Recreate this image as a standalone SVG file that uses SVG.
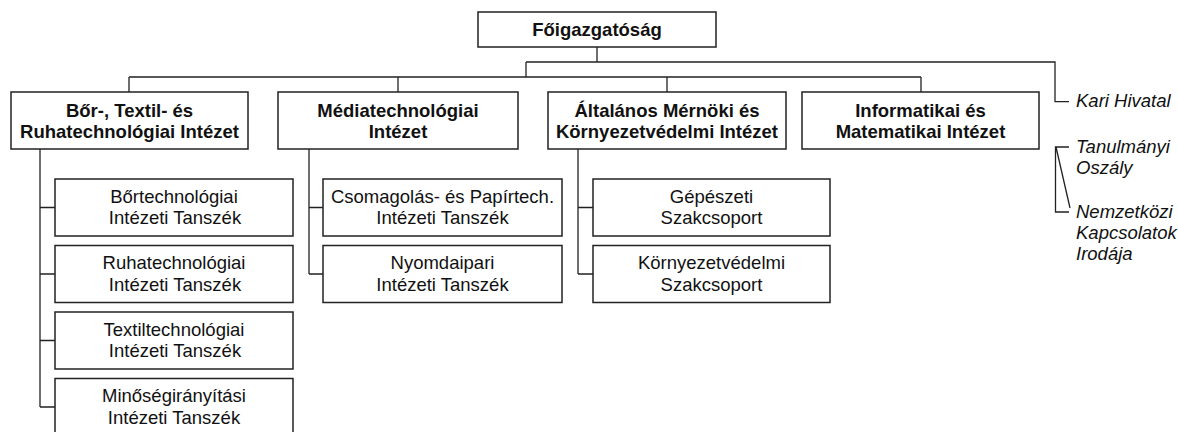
<svg xmlns="http://www.w3.org/2000/svg" width="1178" height="432" viewBox="0 0 1178 432">
<style>
.box{fill:#fff;stroke:#222;stroke-width:1.5}
.ln{fill:none;stroke:#222;stroke-width:1.3}
.b{font-family:"Liberation Sans",Arial,sans-serif;font-size:18.5px;font-weight:bold;fill:#111;text-anchor:middle}
.r{font-family:"Liberation Sans",Arial,sans-serif;font-size:18.5px;fill:#111;text-anchor:middle}
.i{font-family:"Liberation Sans",Arial,sans-serif;font-size:18.5px;font-style:italic;fill:#111}
</style>
<rect width="1178" height="432" fill="#fff"/>
<g id="connectors">
<path class="ln" d="M597,47 V62 M526,62 H1055 V101.7 H1069 M526,62 V77 M129,77 H921 M129,77 V92 M398,77 V92 M667,77 V92 M921,77 V92"/>
<path class="ln" d="M40,149 V407 M40,207.5 H55 M40,274 H55 M40,340.5 H55 M40,407 H55"/>
<path class="ln" d="M309,149 V274 M309,207.5 H323 M309,274 H323"/>
<path class="ln" d="M578,149 V274 M578,207.5 H593 M578,274 H593"/>
<path class="ln" d="M1069,147 H1055.5 V212 H1069 M1056,147 L1070,208"/>
</g>
<g id="foigazgatosag"><rect class="box" x="478" y="12" width="238" height="35"/><text class="b" x="597" y="36">Főigazgatóság</text></g>
<g id="bor"><rect class="box" x="11" y="92" width="237" height="57"/><text class="b" x="129.5" y="116.5">Bőr-, Textil- és</text><text class="b" x="129.5" y="137.7">Ruhatechnológiai Intézet</text></g>
<g id="media"><rect class="box" x="278" y="92" width="240" height="57"/><text class="b" x="398" y="116.5">Médiatechnológiai</text><text class="b" x="398" y="137.7">Intézet</text></g>
<g id="altalanos"><rect class="box" x="548" y="92" width="238" height="57"/><text class="b" x="667" y="116.5">Általános Mérnöki és</text><text class="b" x="667" y="137.7">Környezetvédelmi Intézet</text></g>
<g id="informatikai"><rect class="box" x="802" y="92" width="237" height="57"/><text class="b" x="920.5" y="116.5">Informatikai és</text><text class="b" x="920.5" y="137.7">Matematikai Intézet</text></g>
<g id="bortech"><rect class="box" x="55" y="179" width="238" height="57"/><text class="r" x="174" y="202.5">Bőrtechnológiai</text><text class="r" x="175" y="224">Intézeti Tanszék</text></g>
<g id="ruhatech"><rect class="box" x="55" y="245.5" width="238" height="57"/><text class="r" x="174" y="269">Ruhatechnológiai</text><text class="r" x="175" y="290.5">Intézeti Tanszék</text></g>
<g id="textiltech"><rect class="box" x="55" y="312" width="238" height="57"/><text class="r" x="174" y="335.5">Textiltechnológiai</text><text class="r" x="175" y="357">Intézeti Tanszék</text></g>
<g id="minoseg"><rect class="box" x="55" y="378.5" width="238" height="57"/><text class="r" x="174" y="402">Minőségirányítási</text><text class="r" x="174" y="423.5">Intézeti Tanszék</text></g>
<g id="csomagolas"><rect class="box" x="323" y="179" width="239" height="57"/><text class="r" x="442.5" y="202.5">Csomagolás- és Papírtech.</text><text class="r" x="442.5" y="224">Intézeti Tanszék</text></g>
<g id="nyomdaipari"><rect class="box" x="323" y="245.5" width="239" height="57"/><text class="r" x="442.5" y="269">Nyomdaipari</text><text class="r" x="442.5" y="290.5">Intézeti Tanszék</text></g>
<g id="gepeszeti"><rect class="box" x="593" y="179" width="237" height="57"/><text class="r" x="711.5" y="202.5">Gépészeti</text><text class="r" x="711.5" y="224">Szakcsoport</text></g>
<g id="kornyezet"><rect class="box" x="593" y="245.5" width="237" height="57"/><text class="r" x="711.5" y="269">Környezetvédelmi</text><text class="r" x="711.5" y="290.5">Szakcsoport</text></g>
<g id="kari"><text class="i" x="1076" y="107">Kari Hivatal</text></g>
<g id="tanulmanyi"><text class="i" x="1076" y="152.5">Tanulmányi</text><text class="i" x="1076" y="173.5">Oszály</text></g>
<g id="nemzetkozi"><text class="i" x="1076" y="218">Nemzetközi</text><text class="i" x="1076" y="239">Kapcsolatok</text><text class="i" x="1076" y="260">Irodája</text></g>
</svg>
